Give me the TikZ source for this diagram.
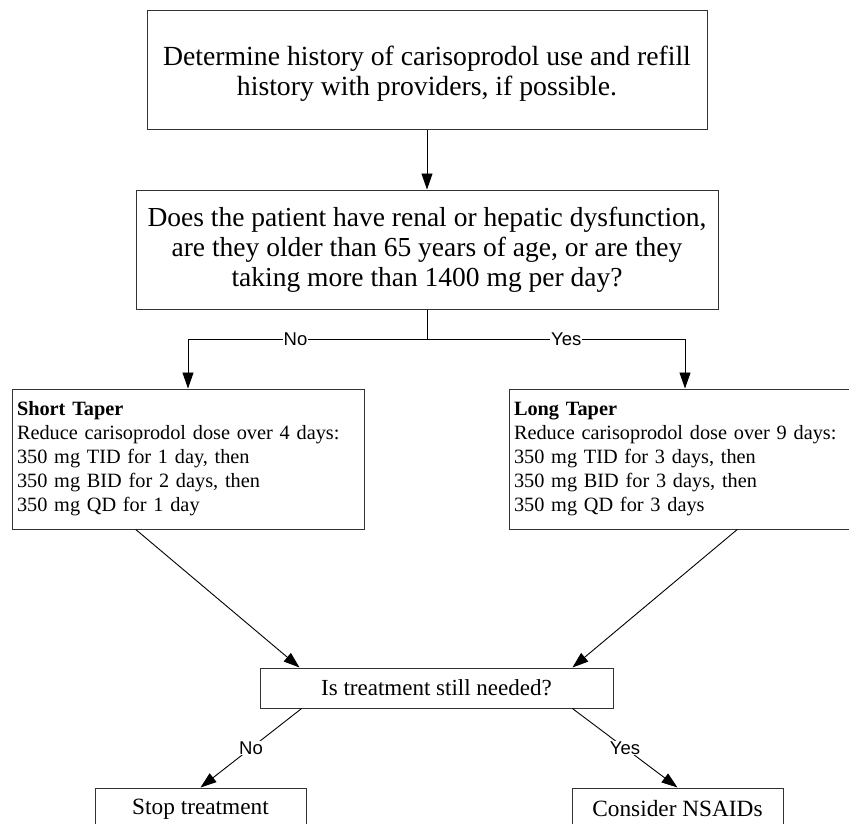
\documentclass[tikz,border=0pt]{standalone}
\usepackage{fontspec}
\setmainfont{Liberation Serif}
\newfontfamily\labelfont{Liberation Sans}
\usetikzlibrary{arrows.meta,calc}

\tikzset{
  box/.style={draw=black!80, line width=1pt, inner sep=0pt, align=center},
  taper/.style={box, minimum width=352pt, minimum height=140pt, text width=342pt,
    inner xsep=5pt, align=left, font=\fontsize{20.3}{24}\selectfont},
  line/.style={line width=0.9pt},
  arrow/.style={line, -{Triangle[length=16pt,width=11pt]}},
  lbl/.style={fill=white, inner sep=1pt, font=\labelfont\fontsize{18.5}{20}\selectfont},
}

\begin{document}
\begin{tikzpicture}[x=1pt,y=-1pt]

% Page frame, in pixels of the reference
\useasboundingbox (0,0) rectangle (849,823);
\clip (0,0) rectangle (849,823);

% Top two boxes
\node[box, minimum width=560pt, minimum height=119pt, font=\fontsize{27.7}{30.5}\selectfont]
  (history) at (427,70.4) {\rule{0pt}{26pt}Determine history of carisoprodol use and refill\\history with providers, if possible.};
\node[box, minimum width=582pt, minimum height=119pt, font=\fontsize{27.5}{30}\selectfont]
  (risk) at (427,249.5) {Does the patient have renal or hepatic dysfunction,\\are they older than 65 years of age, or are they\\taking more than 1400 mg per day?};

% Branch point below the question
\coordinate (split) at (427,339);

% The two tapers
\node[taper] (short) at (188,459) {\textbf{Short Taper}\\Reduce carisoprodol dose over 4 days:\\350 mg TID for 1 day, then\\350 mg BID for 2 days, then\\350 mg QD for 1 day};
\node[taper] (long) at (685,459) {\textbf{Long Taper}\\Reduce carisoprodol dose over 9 days:\\350 mg TID for 3 days, then\\350 mg BID for 3 days, then\\350 mg QD for 3 days};

% Second question and outcomes
\node[box, minimum width=353pt, minimum height=40pt, font=\fontsize{23}{26}\selectfont]
  (needed) at (436.5,688) {Is treatment still needed?};
\node[box, minimum width=211pt, minimum height=42pt, font=\fontsize{23.3}{26}\selectfont]
  (stop) at (200.5,809) {Stop treatment};
\node[box, minimum width=211pt, minimum height=42pt, font=\fontsize{23.3}{26}\selectfont]
  (nsaids) at (677.5,809) {Consider NSAIDs};

% Connectors
\draw[arrow] (history.south) -- (risk.north);
\draw[line] (risk.south) -- (split);
\draw[arrow] (split) -- node[lbl, pos=0.55] {No} (split -| short.north) -- (short.north);
\draw[arrow] (split) -- node[lbl, pos=0.54] {Yes} (split -| long.north) -- (long.north);

\draw[arrow] ($(short.south west)!0.352!(short.south east)$) -- ($(needed.north west)!0.113!(needed.north east)$);
\draw[arrow] ($(long.south west)!0.648!(long.south east)$) -- ($(needed.north west)!0.884!(needed.north east)$);

\draw[arrow] ($(needed.south west)!0.119!(needed.south east)$) -- node[lbl] {No} (stop.north);
\draw[arrow] ($(needed.south west)!0.884!(needed.south east)$) -- node[lbl] {Yes} (nsaids.north);

\end{tikzpicture}
\end{document}
